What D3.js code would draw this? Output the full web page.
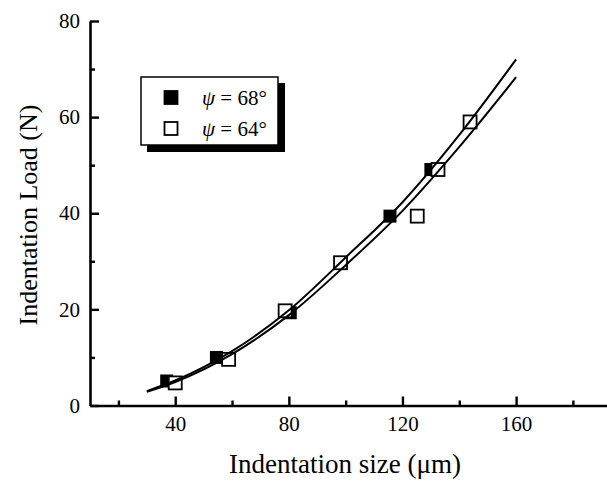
<!DOCTYPE html>
<html>
<head>
<meta charset="utf-8">
<script src="https://cdn.jsdelivr.net/npm/d3@7"></script>
<style>
  body { margin: 0; background: #fff; }
  svg text { font-family: "Liberation Serif", "Times New Roman", serif; }
</style>
</head>
<body>
<div id="chart"></div>
<script>
// values
var sizes68 = [37, 54.5, 80.5, 115.6, 130];
var loads68 = [5.1, 10, 19.3, 39.4, 49.1];
var sizes64 = [40, 58.8, 78.7, 98.2, 125.2, 132.5, 143.8];
var loads64 = [4.7, 9.6, 19.7, 29.7, 39.4, 49.1, 59];
var fitSizes = [30, 40, 60, 80, 100, 120, 140, 160];
var fit68 = [3.0, 5.2, 11.3, 19.8, 30.8, 42.3, 56.3, 72];
var fit64 = [2.85, 4.9, 10.7, 18.8, 29.2, 40.5, 53.8, 68.3];
var xMajor = [40, 80, 120, 160];
var xMinor = [20, 60, 100, 140, 180];
var yMajor = [0, 20, 40, 60, 80];
var yMinor = [10, 30, 50, 70];
var legendLabels = ["68°", "64°"];

var serif = "'Liberation Serif', 'Times New Roman', serif";
var width = 607, height = 481;

var svg = d3.select("#chart").append("svg")
  .attr("width", width)
  .attr("height", height);

var x = d3.scaleLinear().domain([10, 192]).range([90, 607]);
var y = d3.scaleLinear().domain([0, 80]).range([405.5, 21]);

// axes, ticks point inward
var gx = svg.append("g").attr("transform", "translate(0," + y(0) + ")");
gx.call(d3.axisBottom(x).tickValues(xMajor).tickSizeInner(-9).tickSizeOuter(0).tickPadding(11));
gx.append("g").call(d3.axisBottom(x).tickValues(xMinor).tickSizeInner(-5).tickSizeOuter(0).tickFormat(""))
  .select(".domain").remove();

var gy = svg.append("g").attr("transform", "translate(" + x(10) + ",0)");
gy.call(d3.axisLeft(y).tickValues(yMajor).tickSizeInner(-9).tickSizeOuter(0).tickPadding(10));
gy.append("g").call(d3.axisLeft(y).tickValues(yMinor).tickSizeInner(-5).tickSizeOuter(0).tickFormat(""))
  .select(".domain").remove();

svg.selectAll("g").attr("font-family", serif);
svg.selectAll(".domain").attr("stroke", "#000").attr("stroke-width", 2.6);
svg.selectAll(".tick line").attr("stroke", "#000").attr("stroke-width", 2.4);
svg.selectAll(".tick text")
  .attr("fill", "#000")
  .attr("font-family", serif)
  .attr("font-size", 21)
  .style("font-size", "21px");

// axis titles
svg.append("text")
  .attr("x", 345).attr("y", 473)
  .attr("text-anchor", "middle")
  .attr("font-family", serif)
  .style("font-size", "27px")
  .text("Indentation size (\u03bcm)");

svg.append("text")
  .attr("transform", "translate(37,215) rotate(-90)")
  .attr("text-anchor", "middle")
  .attr("font-family", serif)
  .style("font-size", "26px")
  .text("Indentation Load (N)");

// markers
var sq = 13;
svg.selectAll(".filled")
  .data(sizes68)
  .enter().append("rect")
  .attr("class", "filled")
  .attr("x", function(d) { return x(d) - sq / 2; })
  .attr("y", function(d, i) { return y(loads68[i]) - sq / 2; })
  .attr("width", sq).attr("height", sq)
  .attr("fill", "#000");

svg.selectAll(".open")
  .data(sizes64)
  .enter().append("rect")
  .attr("class", "open")
  .attr("x", function(d) { return x(d) - sq / 2; })
  .attr("y", function(d, i) { return y(loads64[i]) - sq / 2; })
  .attr("width", sq).attr("height", sq)
  .attr("fill", "#fff")
  .attr("stroke", "#000")
  .attr("stroke-width", 1.8);

// fitted curves
var line = d3.line()
  .x(function(d) { return x(d[0]); })
  .y(function(d) { return y(d[1]); })
  .curve(d3.curveMonotoneX);

[fit68, fit64].forEach(function(fit) {
  svg.append("path")
    .datum(fitSizes.map(function(s, i) { return [s, fit[i]]; }))
    .attr("d", line)
    .attr("fill", "none")
    .attr("stroke", "#000")
    .attr("stroke-width", 2);
});

// legend with drop shadow
var lg = svg.append("g");
lg.append("rect").attr("x", 147).attr("y", 83).attr("width", 138).attr("height", 69).attr("fill", "#000");
lg.append("rect").attr("x", 141).attr("y", 77).attr("width", 137).attr("height", 68)
  .attr("fill", "#fff").attr("stroke", "#000").attr("stroke-width", 1.5);

legendLabels.forEach(function(lab, i) {
  var cy = 97.5 + i * 31;
  lg.append("rect")
    .attr("x", 171 - sq / 2).attr("y", cy - sq / 2)
    .attr("width", sq).attr("height", sq)
    .attr("fill", i === 0 ? "#000" : "#fff")
    .attr("stroke", "#000").attr("stroke-width", 1.8);
  var t = lg.append("text")
    .attr("x", 202).attr("y", cy + 7.5)
    .attr("font-family", serif)
    .style("font-size", "21px");
  t.append("tspan").style("font-style", "italic").text("\u03c8");
  t.append("tspan").text(" = " + lab);
});
</script>
</body>
</html>
